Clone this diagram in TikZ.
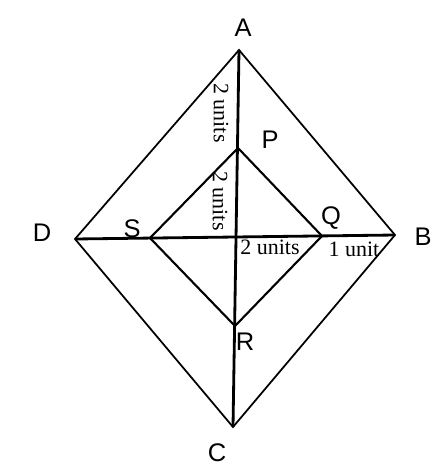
\documentclass[tikz,border=0pt]{standalone}
\usepackage{fontspec}
\setmainfont{Liberation Serif}
\newfontfamily\labelfont{Liberation Sans}
\usepackage{tikz}
\usetikzlibrary{positioning, calc}

\begin{document}
\begin{tikzpicture}[x=0.02cm, y=-0.02cm,
          vertexLabel/.style={font=\labelfont\fontsize{14.5}{16}\selectfont, inner sep=0pt},
          unitLabel/.style={font=\fontsize{12.5}{14}\selectfont, inner sep=0pt},
          outerEdge/.style={draw=black, line width=1pt, line join=miter},
          innerEdge/.style={draw=black, line width=1.2pt, line join=miter},
          diagonal/.style={draw=black, line width=1.6pt}
        ]
          \useasboundingbox (0,0) rectangle (434,467);
          % corners of the big rhombus
          \coordinate (A) at (239, 50);
          \coordinate (B) at (395, 235);
          \coordinate (C) at (233, 427);
          \coordinate (D) at (75, 239);
          % corners of the small square
          \coordinate (P) at (238, 148);
          \coordinate (Q) at (322, 236);
          \coordinate (R) at (235, 326);
          \coordinate (S) at (150, 238);

          \draw[outerEdge] (A) -- (B) -- (C) -- (D) -- cycle;
          \draw[innerEdge] (P) -- (Q) -- (R) -- (S) -- cycle;
          \draw[diagonal] (A) -- (C);
          \draw[diagonal] (D) -- (B);

          \node[vertexLabel] (labA) at (243, 28) {A};
          \node[vertexLabel] (labB) at (423, 237) {B};
          \node[vertexLabel] (labC) at (217, 453) {C};
          \node[vertexLabel] (labD) at (42, 233) {D};
          \node[vertexLabel] (labP) at (270, 140) {P};
          \node[vertexLabel] (labQ) at (331, 218) {Q};
          \node[vertexLabel] (labR) at (245, 342) {R};
          \node[vertexLabel] (labS) at (132, 229) {S};

          \node[unitLabel, rotate=-90] (unitAP) at (221, 113) {2 units};
          \node[unitLabel, rotate=-90] (unitPO) at (220, 201) {2 units};
          \node[unitLabel] (unitOQ) at (270, 247) {2 units};
          \node[unitLabel] (unitQB) at (354, 249) {1 unit};
        \end{tikzpicture}
\end{document}
